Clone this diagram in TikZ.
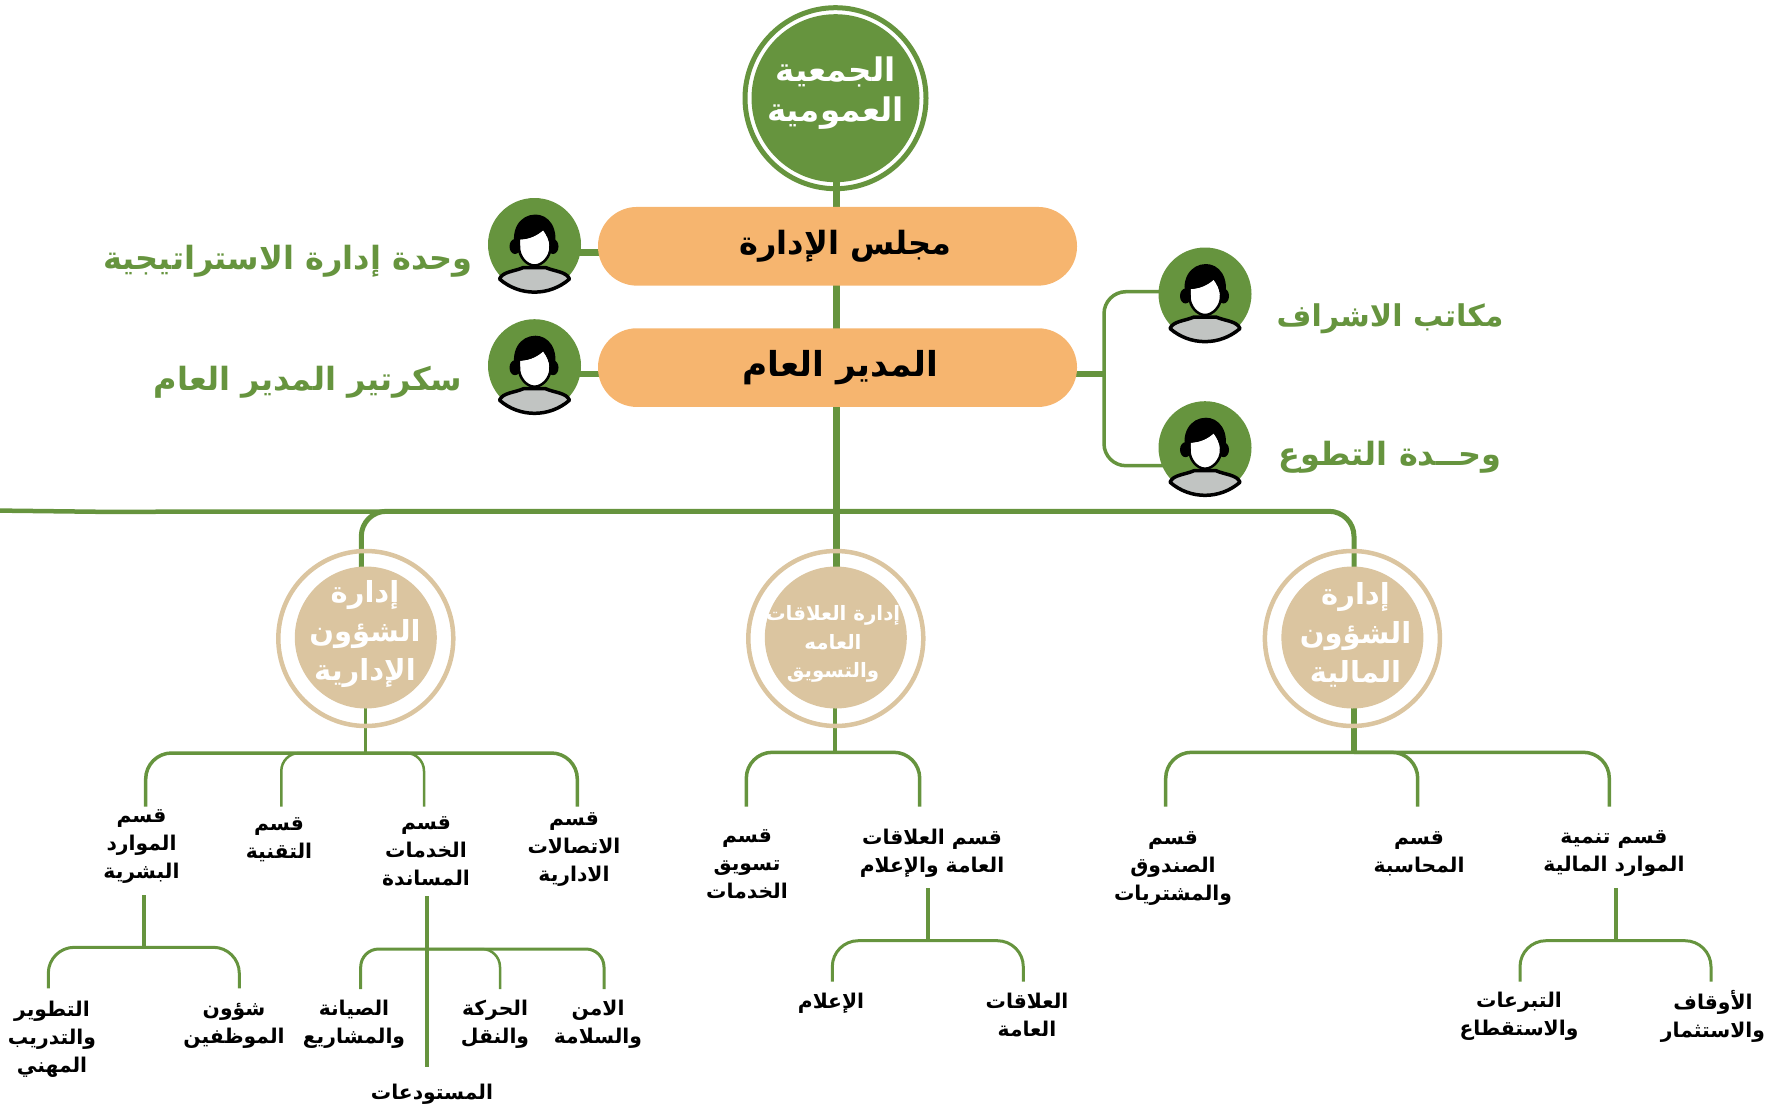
\documentclass[tikz,border=0pt]{standalone}
\usepackage{fontspec}
\usetikzlibrary{backgrounds}
\TeXXeTstate=1
\newfontfamily\arfont[Script=Arabic]{DejaVu Sans}
\newcommand\rl[1]{\beginR #1\endR}
\definecolor{grn}{HTML}{66943E}
\definecolor{tan}{HTML}{DBC5A0}
\definecolor{org}{HTML}{F6B56F}
\definecolor{bodygray}{HTML}{C1C4C2}
\tikzset{
  base/.style={inner sep=0pt,outer sep=0pt},
  bar/.style={base,fill=org,rounded corners=39pt,minimum width=479pt,minimum height=78.7pt,text=black,
    font=\arfont\bfseries\fontsize{32}{38}\selectfont},
  topdisc/.style={base,circle,fill=grn,minimum size=168pt},
  toptext/.style={base,text=white,align=center,font=\arfont\bfseries\fontsize{32.5}{40}\selectfont},
  topring/.style={base,circle,draw=grn,line width=5pt,minimum size=181pt},
  middisc/.style={base,circle,fill=tan,minimum size=142pt},
  midtext/.style={base,text=white,align=center,font=\arfont\bfseries\fontsize{29}{39}\selectfont},
  midsmall/.style={midtext,font=\arfont\bfseries\fontsize{19.8}{28.5}\selectfont},
  midring/.style={base,circle,draw=tan,line width=4.5pt,minimum size=175pt},
  avatardisc/.style={base,circle,fill=grn,minimum size=93pt},
  greenlabel/.style={base,text=grn,font=\arfont\bfseries\fontsize{32}{38}\selectfont},
  leaf/.style={base,text=black,align=center,font=\arfont\bfseries\fontsize{20.3}{28}\selectfont},
  thickstem/.style={draw=grn,line width=6.5pt},
  stub/.style={draw=grn,line width=6.5pt},
  mainbus/.style={draw=grn,line width=5pt,rounded corners=25pt},
  stem/.style={draw=grn,line width=4pt},
  midstem/.style={draw=grn,line width=3.5pt},
  branch/.style={draw=grn,line width=3.5pt,rounded corners=26pt},
  slimbranch/.style={draw=grn,line width=2.5pt,rounded corners=18pt},
  avatarpic/.pic={
    \draw[black,line width=3.5pt,fill=bodygray,line join=round]
      (-35,34.5) .. controls (-32,27) and (-20,27) .. (-11,23)
      -- (11,23) .. controls (20,27) and (32,27) .. (35,34.5)
      .. controls (15,52) and (-15,52) .. cycle;
    \fill[black] (-19.5,2) ellipse [x radius=5.5,y radius=7.5];
    \fill[black] (18.5,2) ellipse [x radius=5.5,y radius=7.5];
    \fill[black] (-18,8) .. controls (-26,-15) and (-14,-30) .. (1,-30)
      .. controls (13,-30) and (26,-18) .. (19,8) -- cycle;
    \draw[black,line width=2.5pt,fill=white]
      (-15.5,-6) .. controls (-5,-6) and (3,-10) .. (8.8,-15.5)
      .. controls (13,-10) and (16,-5) .. (16,3)
      .. controls (16,12) and (8,21) .. (0,21)
      .. controls (-8,21) and (-15.5,12) .. (-15.5,3) -- cycle;
    \fill[white] (-14.2,-4.8) .. controls (-5,-5) and (3,-9) .. (8.6,-14)
      .. controls (12,-9) and (14.6,-4) .. (14.6,1) -- (-14.2,1) -- cycle;
  }
}
\begin{document}
\begin{tikzpicture}[x=1pt,y=-1pt]
\useasboundingbox (0,0) rectangle (1780,1108);

% top
\node[topdisc] (gen) at (835.5,98.2) {};
\node[toptext] (gentext) at (835.5,93) {\rl{الجمعية}\\\rl{العمومية}};
\node[topring] (genring) at (835.5,98.2) {};
\node[bar] (board) at (837.5,246.3) {\hspace*{16pt}\raisebox{7pt}{\rl{مجلس الإدارة}}};
\node[bar] (gm) at (837.5,367.6) {\hspace*{6pt}\raisebox{7pt}{\fontsize{34.4}{40}\selectfont\rl{المدير العام}}};

% avatars
\node[avatardisc] (av1) at (534.5,244.5) {};
\node[avatardisc] (av2) at (534.5,365.7) {};
\node[avatardisc] (av3) at (1205,294) {};
\node[avatardisc] (av4) at (1205,447.7) {};
\path (av1.center) pic {avatarpic};
\path (av2.center) pic {avatarpic};
\path (av3.center) pic {avatarpic};
\path (av4.center) pic {avatarpic};

% green labels
\node[greenlabel] (lstrat) at (288,261) {\rl{وحدة إدارة الاستراتيجية}};
\node[greenlabel] (lsec) at (308,382) {\rl{سكرتير المدير العام}};
\node[greenlabel,font=\arfont\bfseries\fontsize{30}{36}\selectfont] (lsup) at (1390,319) {\rl{مكاتب الاشراف}};
\node[greenlabel] (lvol) at (1390,457) {\rl{وحــدة التطوع}};

% departments
\node[middisc] (dadm) at (365.8,637.5) {};
\node[midtext] (tadm) at (365,634.5) {\rl{إدارة}\\\rl{الشؤون}\\\rl{الإدارية}};
\node[midring] (radm) at (365.8,638.5) {};
\node[middisc] (dpr) at (835.8,637.5) {};
\node[midsmall] (tpr) at (833,644) {\rl{إدارة العلاقات}\\\rl{العامه}\\\rl{والتسويق}};
\node[midring] (rpr) at (835.8,638.5) {};
\node[middisc] (dfin) at (1352.4,637.5) {};
\node[midtext] (tfin) at (1355.5,634.5) {\rl{إدارة}\\\rl{الشؤون}\\\rl{المالية}};
\node[midring] (rfin) at (1352.4,638.5) {};

% leaves
\node[leaf] (hr) at (141.5,846.5) {\rl{قسم}\\\rl{الموارد}\\\rl{البشرية}};
\node[leaf] (tech) at (279,840) {\rl{قسم}\\\rl{التقنية}};
\node[leaf] (serv) at (426,851) {\rl{قسم}\\\rl{الخدمات}\\\rl{المساندة}};
\node[leaf] (comm) at (574,849.5) {\rl{قسم}\\\rl{الاتصالات}\\\rl{الادارية}};
\node[leaf] (train) at (52,1039) {\rl{التطوير}\\\rl{والتدريب}\\\rl{المهني}};
\node[leaf] (staff) at (234,1025.5) {\rl{شؤون}\\\rl{الموظفين}};
\node[leaf] (maint) at (354,1024.5) {\rl{الصيانة}\\\rl{والمشاريع}};
\node[leaf] (trans) at (495,1024.5) {\rl{الحركة}\\\rl{والنقل}};
\node[leaf] (safe) at (598,1024.5) {\rl{الامن}\\\rl{والسلامة}};
\node[leaf] (store) at (432,1094) {\rl{المستودعات}};
\node[leaf] (mark) at (747,864) {\rl{قسم}\\\rl{تسويق}\\\rl{الخدمات}};
\node[leaf] (prd) at (932,853.5) {\rl{قسم العلاقات}\\\rl{العامة والإعلام}};
\node[leaf] (media) at (831,1003) {\rl{الإعلام}};
\node[leaf] (pr) at (1027,1015) {\rl{العلاقات}\\\rl{العامة}};
\node[leaf] (fund) at (1173,869) {\rl{قسم}\\\rl{الصندوق}\\\rl{والمشتريات}};
\node[leaf] (acc) at (1419,854) {\rl{قسم}\\\rl{المحاسبة}};
\node[leaf] (dev) at (1614,854) {\rl{قسم تنمية}\\\rl{الموارد المالية}};
\node[leaf] (don) at (1519,1016) {\rl{التبرعات}\\\rl{والاستقطاع}};
\node[leaf] (waqf) at (1713,1016) {\rl{الأوقاف}\\\rl{والاستثمار}};

% connector ends
\coordinate (trunkT) at (836.5,150);
\coordinate (trunkB) at (836.5,600);
\coordinate (stubL1) at (534.5,252.5);
\coordinate (stubB1) at (700,252.5);
\coordinate (stubL2) at (534.5,374);
\coordinate (stubB2) at (700,374);
\coordinate (stubR) at (1000,374);
\coordinate (brace) at (1104,374);
\coordinate (aAv3) at (1205,291.7);
\coordinate (aAv4) at (1205,465.7);
\coordinate (busW) at (0,510.6);
\coordinate (busK) at (100,511.8);
\coordinate (busN) at (400,511.5);
\coordinate (busA) at (361.3,600);
\coordinate (busM) at (836.5,511.3);
\coordinate (busF) at (1354,600);
\coordinate (sA) at (365.3,700);
\coordinate (sAb) at (365.3,753);
\coordinate (sP) at (835,700);
\coordinate (sPb) at (835,752.3);
\coordinate (sF) at (1354,700);
\coordinate (sFb) at (1354,754);
\coordinate (sFm) at (1354,752.3);
\coordinate (h1) at (145.7,806.7);
\coordinate (h2) at (281.3,806.7);
\coordinate (h3) at (424,806.7);
\coordinate (h4) at (577.3,806.7);
\coordinate (p1) at (746.3,806.7);
\coordinate (p2) at (919.7,806.7);
\coordinate (f1) at (1165.7,806.7);
\coordinate (f2) at (1417.7,806.7);
\coordinate (f3) at (1609.3,806.7);
\coordinate (hrT) at (144,895);
\coordinate (hrB) at (144,947.3);
\coordinate (hrL) at (48.3,988.3);
\coordinate (hrR) at (239.3,988.3);
\coordinate (svT) at (427,896);
\coordinate (svB) at (427,1066.7);
\coordinate (svM) at (427,949);
\coordinate (sv1) at (360.7,989);
\coordinate (sv2) at (500,989);
\coordinate (sv3) at (604,989);
\coordinate (prT) at (928,888);
\coordinate (prB) at (928,940.7);
\coordinate (prL) at (832.3,981.7);
\coordinate (prR) at (1023.3,981.7);
\coordinate (fnT) at (1616,888);
\coordinate (fnB) at (1616,940.7);
\coordinate (fnL) at (1520,981.7);
\coordinate (fnR) at (1711,981.7);

\begin{scope}[on background layer]
  \draw[thickstem] (trunkT) -- (trunkB);
  \draw[stub] (stubL1) -- (stubB1);
  \draw[stub] (stubL2) -- (stubB2);
  \draw[stub] (stubR) -- (brace);
  \draw[midstem,rounded corners=22pt] (aAv3) -| (brace) |- (aAv4);
  \draw[midstem,line width=4.5pt] (busW) -- (busK) -- (busN);
  \draw[mainbus] (busA) |- (busM) -| (busF);
  \draw[midstem] (sA) -- (sAb);
  \draw[midstem] (sP) -- (sPb);
  \draw[draw=grn,line width=5.5pt] (sF) -- (sFb);
  \draw[branch] (h1) |- (sAb) -| (h4);
  \draw[slimbranch] (h2) |- (sAb) -| (h3);
  \draw[branch] (p1) |- (sPb) -| (p2);
  \draw[branch] (f1) |- (sFm) -| (f2);
  \draw[branch] (sFm) -| (f3);
  \draw[stem] (hrT) -- (hrB);
  \draw[branch,line width=3pt] (hrL) |- (hrB) -| (hrR);
  \draw[stem] (svT) -- (svB);
  \draw[slimbranch,line width=3pt] (sv1) |- (svM) -| (sv3);
  \draw[slimbranch] (svM) -| (sv2);
  \draw[stem] (prT) -- (prB);
  \draw[branch,line width=3pt] (prL) |- (prB) -| (prR);
  \draw[stem] (fnT) -- (fnB);
  \draw[branch,line width=3pt] (fnL) |- (fnB) -| (fnR);
\end{scope}
\end{tikzpicture}
\end{document}
